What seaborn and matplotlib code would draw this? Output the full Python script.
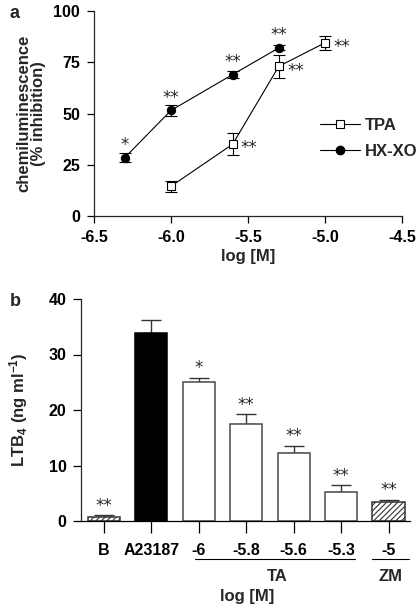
import matplotlib
matplotlib.use("Agg")
import matplotlib.pyplot as plt
import matplotlib.transforms as mtransforms
from matplotlib.lines import Line2D
import seaborn as sns
import pandas as pd
import numpy as np

# ---------------- data ----------------
# panel a
conc_hx = [-6.3, -6.0, -5.6, -5.3]
hx_vals = [28.5, 51.5, 69.0, 82.0]
hx_err = [2.0, 2.5, 1.5, 1.2]
hx_sig = ["*", "**", "**", "**"]

conc_tpa = [-6.0, -5.6, -5.3, -5.0]
tpa_vals = [14.5, 35.0, 73.0, 84.5]
tpa_err = [2.8, 5.3, 5.5, 3.4]
tpa_sig = ["", "**", "**", "**"]

xticks_a = [-6.5, -6.0, -5.5, -5.0, -4.5]
yticks_a = [0, 25, 50, 75, 100]

# panel b
bar_labels = ["B", "A23187", "-6", "-5.8", "-5.6", "-5.3", "-5"]
bar_vals = [0.8, 33.9, 25.1, 17.5, 12.2, 5.2, 3.4]
bar_err = [0.2, 2.3, 0.7, 1.7, 1.4, 1.2, 0.4]
bar_sig = ["**", "", "*", "**", "**", "**", "**"]
bar_group = ["B", "A23187", "TA", "TA", "TA", "TA", "ZM"]
yticks_b = [0, 10, 20, 30, 40]

# ---------------- style ----------------
sns.set_theme(style="ticks")
plt.rcParams["font.family"] = ["Liberation Sans", "DejaVu Sans"]
plt.rcParams["font.weight"] = "bold"
plt.rcParams["mathtext.fontset"] = "custom"
plt.rcParams["mathtext.rm"] = "Liberation Sans:bold"
plt.rcParams["mathtext.it"] = "Liberation Sans:bold"
plt.rcParams["mathtext.bf"] = "Liberation Sans:bold"
plt.rcParams["hatch.linewidth"] = 0.8
plt.rcParams["axes.linewidth"] = 0.9

FS_T = 11.5   # tick labels
FS_L = 12     # axis labels
FS_S = 12     # significance stars
STAR = dict(fontsize=FS_S, fontweight="normal", family="DejaVu Sans")

fig = plt.figure(figsize=(4.18, 6.06), dpi=100)
axa = fig.add_axes([94 / 418, 1 - 216 / 606, 308 / 418, 205 / 606])
axb = fig.add_axes([81 / 418, 1 - 521 / 606, 329 / 418, 222 / 606])

# ---------------- panel a ----------------
df_a = pd.concat([
    pd.DataFrame({"conc": conc_tpa, "val": tpa_vals, "series": "TPA"}),
    pd.DataFrame({"conc": conc_hx, "val": hx_vals, "series": "HX-XO"}),
])
sns.lineplot(data=df_a, x="conc", y="val", hue="series", style="series",
             palette={"TPA": "black", "HX-XO": "black"},
             markers={"TPA": "s", "HX-XO": "o"}, dashes=False,
             linewidth=0.8, markersize=6, ax=axa, legend=False, zorder=3)
lines = axa.get_lines()
lines[0].set_markerfacecolor("white")
lines[0].set_markeredgecolor("black")
lines[0].set_markeredgewidth(0.8)
lines[1].set_markerfacecolor("black")
lines[1].set_markeredgecolor("black")

axa.errorbar(conc_tpa, tpa_vals, yerr=tpa_err, fmt="none", ecolor="black",
             elinewidth=0.8, capsize=4, capthick=0.8, zorder=2)
axa.errorbar(conc_hx, hx_vals, yerr=hx_err, fmt="none", ecolor="black",
             elinewidth=0.8, capsize=4, capthick=0.8, zorder=2)

for x, y, s in zip(conc_hx, hx_vals, hx_sig):
    axa.annotate(s, (x, y), xytext=(0, 9), textcoords="offset points",
                 ha="center", va="center", **STAR)
for x, y, s in zip(conc_tpa, tpa_vals, tpa_sig):
    if s:
        axa.annotate(s, (x, y), xytext=(6, -3), textcoords="offset points",
                     ha="left", va="center", **STAR)

axa.set_xlim(-6.5, -4.5)
axa.set_ylim(0, 100)
axa.set_xticks(xticks_a)
axa.set_xticklabels([f"{t:.1f}" for t in xticks_a])
axa.set_yticks(yticks_a)
axa.tick_params(axis="both", labelsize=FS_T, length=5, width=0.9, pad=5,
                colors="black")
axa.set_xlabel("log [M]", fontsize=FS_L, fontweight="bold", labelpad=3)
axa.set_ylabel("chemiluminescence\n(% inhibition)", fontsize=FS_L,
               fontweight="bold", labelpad=5, linespacing=1.0)
sns.despine(ax=axa)

handles = [
    Line2D([], [], color="black", lw=0.8, marker="s", markersize=5.5,
           markerfacecolor="white", markeredgewidth=0.8),
    Line2D([], [], color="black", lw=0.8, marker="o", markersize=6,
           markerfacecolor="black"),
]
axa.legend(handles, ["TPA", "HX-XO"], frameon=False,
           loc="center left", bbox_to_anchor=(0.734, 0.38),
           borderaxespad=0, borderpad=0,
           handlelength=2.4, handletextpad=0.3, labelspacing=0.65,
           prop={"weight": "bold", "size": FS_L})

fig.text(10 / 418, 1 - 13 / 606, "a", fontsize=13, fontweight="bold",
         va="center", ha="left")

# ---------------- panel b ----------------
df_b = pd.DataFrame({"label": bar_labels, "val": bar_vals})
sns.barplot(data=df_b, x="label", y="val", order=bar_labels, ax=axb,
            width=0.68, color="white", edgecolor="#4a4a4a", linewidth=1.1,
            saturation=1, errorbar=None, zorder=2)
face = {"B": "white", "A23187": "black", "TA": "white", "ZM": "white"}
hatch = {"B": "//////", "A23187": None, "TA": None, "ZM": "//////"}
for patch, g in zip(axb.patches, bar_group):
    patch.set_facecolor(face[g])
    if hatch[g]:
        patch.set_hatch(hatch[g])
        patch.set_edgecolor("#333333")
    if g == "A23187":
        patch.set_edgecolor("black")

xpos = np.arange(len(bar_labels))
axb.errorbar(xpos, bar_vals, yerr=[np.zeros(len(bar_err)), bar_err],
             fmt="none", ecolor="#333333", elinewidth=1.0, capsize=7,
             capthick=1.0, zorder=1)
for x, y, e, s in zip(xpos, bar_vals, bar_err, bar_sig):
    if s:
        axb.annotate(s, (x, y + e), xytext=(0, 7), textcoords="offset points",
                     ha="center", va="center", **STAR)

axb.set_xlim(-0.48, 6.45)
axb.set_ylim(0, 40)
axb.set_yticks(yticks_b)
axb.tick_params(axis="y", labelsize=FS_T, length=5.5, width=0.9, pad=5,
                colors="black")
axb.tick_params(axis="x", labelsize=FS_T, length=8.5, width=0.9, pad=7,
                colors="black")
axb.set_xlabel("")
axb.set_ylabel(r"LTB$_4$ (ng ml$^{-1}$)", fontsize=FS_L, fontweight="bold",
               labelpad=13)
sns.despine(ax=axb)
axb.spines["bottom"].set_color("black")

trans = mtransforms.blended_transform_factory(axb.transData, axb.transAxes)
groups = [("TA", 1.92, 5.3), ("ZM", 5.64, 6.42)]
for name, x0, x1 in groups:
    axb.plot([x0, x1], [-0.171, -0.171], transform=trans, color="black",
             lw=0.8, clip_on=False)
    axb.text((x0 + x1) / 2 + (0.05 if name == "TA" else 0.0), -0.25, name,
             transform=trans, ha="center", va="center", fontsize=FS_L,
             fontweight="bold")
axb.text(0.505, -0.338, "log [M]", transform=axb.transAxes, ha="center",
         va="center", fontsize=FS_L, fontweight="bold")

fig.text(10 / 418, 1 - 302 / 606, "b", fontsize=13, fontweight="bold",
         va="center", ha="left")

fig.savefig("out.png", dpi=100)
